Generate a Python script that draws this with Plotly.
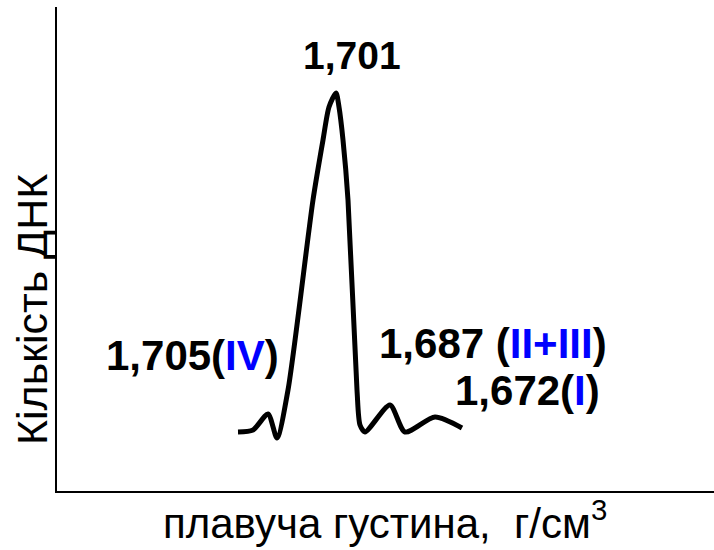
import plotly.graph_objects as go

# Curve trace (arbitrary density / amount units)
density = [181, 196, 211, 220, 231, 256, 266, 272, 279, 282, 286, 291, 300, 303, 308, 333, 348, 378, 405]
amount = [59, 61, 77, 53, 101, 291, 351, 384, 398, 384, 351, 291, 101, 66, 59, 86, 59, 74, 63]

# Peak labels: (text, x, y)
label_texts = [
    "1,701",
    "1,705(<span style='color:#0000FF'>IV</span>)",
    "1,687 (<span style='color:#0000FF'>II+III</span>)",
    "1,672(<span style='color:#0000FF'>I</span>)",
]
label_x = [295, 135, 436, 470]
label_y = [436, 136, 148, 101]
label_size = [39, 42, 42, 42]

x_title = "плавуча густина,  г/см<sup>3</sup>"
y_title = "Кількість ДНК"

FONT = "Liberation Sans, Arial, sans-serif"

fig = go.Figure()
fig.add_trace(go.Scatter(
    x=density, y=amount, mode="lines",
    line=dict(color="black", width=5, shape="spline", smoothing=0.7),
    hoverinfo="skip", showlegend=False,
))

W, H = 714, 550
ml, mr, mt, mb = 57, 0, 7, 59

annotations = []
for t, x, y, s in zip(label_texts, label_x, label_y, label_size):
    annotations.append(dict(
        x=x, y=y, xref="x", yref="y", text="<b>" + t + "</b>",
        showarrow=False, font=dict(family=FONT, size=s, color="black"),
        xanchor="center", yanchor="middle",
    ))

# axis titles
annotations.append(dict(
    x=(385 - ml) / (W - ml - mr), y=-(520 - (H - mb)) / (H - mt - mb),
    xref="paper", yref="paper", text=x_title, showarrow=False,
    font=dict(family=FONT, size=42, color="black"),
    xanchor="center", yanchor="middle",
))
annotations.append(dict(
    x=-(ml - 32) / (W - ml - mr), y=(H - mb - 310) / (H - mt - mb),
    xref="paper", yref="paper", text=y_title, showarrow=False, textangle=-90,
    font=dict(family=FONT, size=43, color="black"),
    xanchor="center", yanchor="middle",
))

fig.update_layout(
    width=W, height=H,
    margin=dict(l=ml, r=mr, t=mt, b=mb),
    paper_bgcolor="white", plot_bgcolor="white",
    xaxis=dict(range=[0, W - ml - mr], showline=True, linecolor="black", linewidth=2,
               showgrid=False, zeroline=False, showticklabels=False, ticks=""),
    yaxis=dict(range=[0, H - mt - mb], showline=True, linecolor="black", linewidth=2,
               showgrid=False, zeroline=False, showticklabels=False, ticks=""),
    annotations=annotations,
)

fig.write_html(
    "out.html",
    config={"staticPlot": True, "displayModeBar": False},
    post_script="document.body.style.margin='0px';document.body.style.overflow='hidden';",
)
